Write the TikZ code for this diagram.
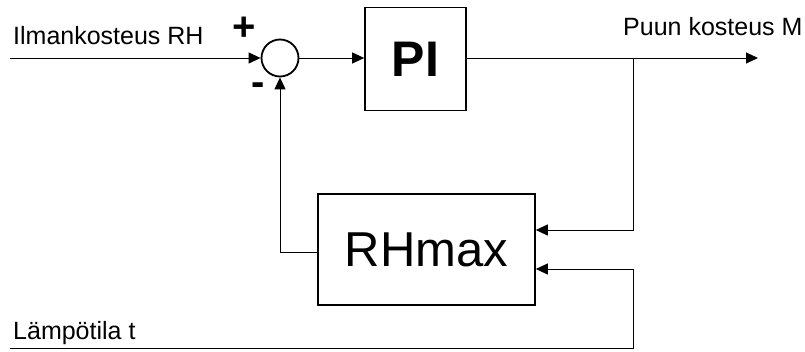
\documentclass[tikz,border=0pt]{standalone}
\usepackage{fontspec}
\setmainfont{Liberation Sans}
\usetikzlibrary{arrows.meta,positioning}

\begin{document}
\begin{tikzpicture}[x=1pt,y=-1pt,
    sig/.style={line width=1pt,-{Triangle[length=12pt,width=11pt]}},
    blockbox/.style={draw,line width=1.6pt,inner sep=0pt},
    sumcirc/.style={draw,circle,line width=1.8pt,minimum size=37pt,inner sep=0pt},
    lbl/.style={font=\fontsize{25}{30}\selectfont,inner sep=0pt},
    sgn/.style={font=\fontsize{40}{44}\selectfont\bfseries,inner sep=0pt}]
  \useasboundingbox (0,0) rectangle (805,351);
  \node[sumcirc] (sum) at (280,58) {};
  \node[blockbox,minimum width=101pt,minimum height=103pt,
        font=\fontsize{50}{56}\selectfont\bfseries] (pi) at (415.5,59) {PI};
  \node[blockbox,minimum width=217pt,minimum height=111pt,
        font=\fontsize{49}{56}\selectfont] (rhmax) at (426.5,249.5) {RHmax};
  \coordinate (rhin) at (10,58);
  \coordinate (mout) at (758,58);
  \coordinate (branch) at (633,58);
  \coordinate (tin) at (10,348);
  \coordinate (tturn) at (633,348);
  % signal lines
  \draw[sig] (rhin) -- (sum);
  \draw[sig] (sum) -- (sum -| pi.west);
  \draw[sig] (pi.east |- sum) -- (mout);
  \draw[sig] (branch) |- ([yshift=19.5pt]rhmax.east);
  \draw[sig] (tin) -- (tturn) |- ([yshift=-19.5pt]rhmax.east);
  \draw[sig] ([yshift=-2.5pt]rhmax.west) -| (sum);
  % labels
  \node[lbl,anchor=base west] (rhlbl) at (13,44) {Ilmankosteus RH};
  \node[lbl,anchor=base west] (mlbl) at (623,35) {Puun kosteus M};
  \node[lbl,anchor=base west] (tlbl) at (13,339) {Lämpötila t};
  \node[sgn] (plus) at (244,29) {+};
  \node[sgn] (minus) at (258,89) {-};
\end{tikzpicture}
\end{document}
